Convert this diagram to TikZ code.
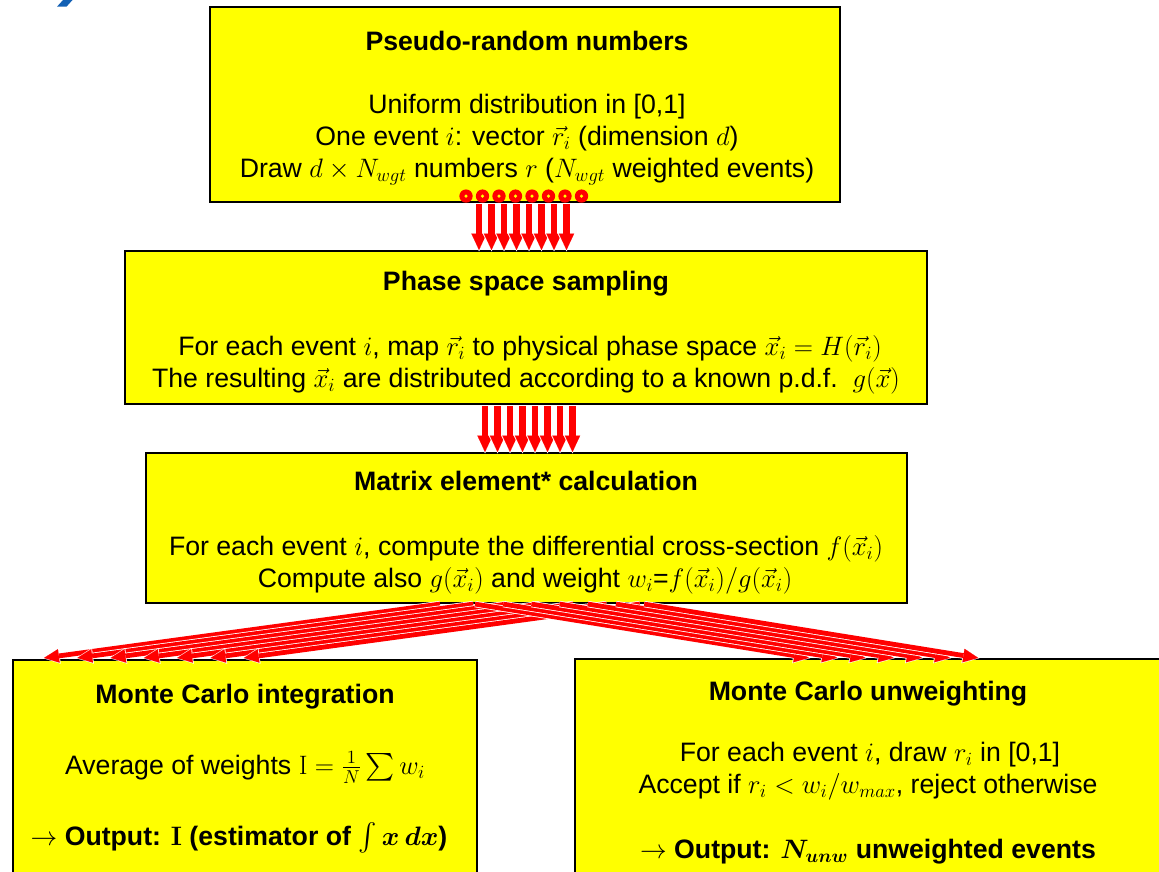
\RequirePackage{fix-cm}
\documentclass[tikz,border=0pt]{standalone}
\usepackage{exscale}
\usepackage[no-math]{fontspec}
\setmainfont{Liberation Sans}
\usetikzlibrary{arrows.meta,calc,fit}
\definecolor{boxyellow}{HTML}{FFFF00}
\definecolor{arrred}{HTML}{FF0000}
\definecolor{titleblue}{HTML}{1260B4}
\begin{document}
\begin{tikzpicture}[x=0.75pt,y=-0.75pt,
  box/.style={draw=black, line width=1.6pt, fill=boxyellow, inner sep=0pt},
  txt/.style={font=\fontsize{20}{24}\selectfont, anchor=base, inner sep=0pt},
  ttl/.style={font=\fontsize{20}{24}\selectfont\bfseries, anchor=base, inner sep=0pt},
  varrw/.style={white, line width=6.6pt, -{Triangle[line width=0.01pt,length=13.8pt,width=13.6pt]}, shorten >=-1pt},
  varr/.style={arrred, line width=5pt, -{Triangle[line width=0.01pt,length=12.2pt,width=11.4pt]}},
  farrw/.style={white, line width=4.8pt, -{Triangle[line width=0.01pt,length=12.6pt,width=11.8pt]}, shorten >=-0.8pt},
  farr/.style={arrred, line width=3.6pt, -{Triangle[line width=0.01pt,length=11.2pt,width=10.2pt]}},
  ring/.style={fill=arrred},
  dot/.style={fill=boxyellow}
]
\useasboundingbox (0,0) rectangle (1159,871);

% fragment of the slide title
\fill[titleblue] (63,0) -- (72.5,0) -- (66.5,6.7) -- (57,6.7) -- cycle;

% boxes
\coordinate (b1a) at (210,7);   \coordinate (b1b) at (840,202);
\coordinate (b2a) at (125,251); \coordinate (b2b) at (927,404);
\coordinate (b3a) at (146,453); \coordinate (b3b) at (907,603);
\coordinate (b4a) at (13,660);  \coordinate (b4b) at (477,900);
\coordinate (b5a) at (575,659); \coordinate (b5b) at (1161,900);
\node[box, fit=(b1a)(b1b)] (b1) {};
\node[box, fit=(b2a)(b2b)] (b2) {};
\node[box, fit=(b3a)(b3b)] (b3) {};
\node[box, fit=(b4a)(b4b)] (b4) {};
\node[box, fit=(b5a)(b5b)] (b5) {};

% texts box 1
\node[ttl] (t1) at (527,50) {Pseudo-random numbers};
\node[txt] (l11) at (527,113) {Uniform distribution in [0,1]};
\node[txt] (l12) at (527,145) {One event $i$: vector $\vec{r}_i$ (dimension $d$)};
\node[txt] (l13) at (527,177) {Draw $d\times N_{wgt}$ numbers $r$ ($N_{wgt}$ weighted events)};

% texts box 2
\node[ttl] (t2) at (526,290) {Phase space sampling};
\node[txt] (l21) at (530,355) {For each event $i$, map $\vec{r}_i$ to physical phase space $\vec{x}_i=H(\vec{r}_i)$};
\node[txt] (l22) at (526,387) {The resulting $\vec{x}_i$ are distributed according to a known p.d.f.\ \ $g(\vec{x})$};

% texts box 3
\node[ttl] (t3) at (526,490) {Matrix element* calculation};
\node[txt] (l31) at (526,555) {For each event $i$, compute the differential cross-section $f(\vec{x}_i)$};
\node[txt] (l32) at (525,587) {Compute also $g(\vec{x}_i)$ and weight $w_i$=$f(\vec{x}_i)/g(\vec{x}_i)$};

% texts box 4
\node[ttl] (t4) at (245,703) {Monte Carlo integration};
\node[txt] (l41) at (245,774) {Average of weights $\mathrm{I}=\frac{1}{N}\sum w_i$};
\node[txt] (l42) at (239,845) {$\rightarrow$ \textbf{\boldmath Output: $\mathrm{I}$ (estimator of $\int x\,dx$)}};

% texts box 5
\node[ttl] (t5) at (868,700) {Monte Carlo unweighting};
\node[txt] (l51) at (870,761) {For each event $i$, draw $r_i$ in [0,1]};
\node[txt] (l52) at (868,793) {Accept if $r_i<w_i/w_{max}$, reject otherwise};
\node[txt] (l53) at (868,858) {$\rightarrow$ \textbf{\boldmath Output: $N_{unw}$ unweighted events}};

% arrows box1 -> box2
\foreach \k in {0,...,7}{
  \coordinate (s1\k) at ($(b1.south)+({-46+12.5*\k},1)$);
  \coordinate (e1\k) at ($(b2.north)+({-47+12.5*\k},0)$);
  \draw[varrw] (s1\k) -- (e1\k);
  \draw[varr] (s1\k) -- (e1\k);
}
\foreach \k in {0,...,7}{
  \fill[ring] ($(b1.south)+({-59+16.5*\k},-7)$) circle[radius=5pt];
  \fill[dot] ($(b1.south)+({-59+16.5*\k},-7)$) circle[radius=1.3pt];
}

% arrows box2 -> box3
\foreach \k in {0,...,7}{
  \coordinate (s2\k) at ($(b2.south)+({-41+12.5*\k},1)$);
  \coordinate (e2\k) at ($(b3.north)+({-41.5+12.5*\k},0)$);
  \draw[varrw] (s2\k) -- (e2\k);
  \draw[varr] (s2\k) -- (e2\k);
}

% fan box3 -> box4
\foreach \k in {0,...,6}{
  \coordinate (s3\k) at ($(b3.south)+({-86.5+33.3*\k},0)$);
  \coordinate (e3\k) at ($(b4.north)+({-201+33.3*\k},-1)$);
  \draw[farrw] (s3\k) -- (e3\k);
  \draw[farr] (s3\k) -- (e3\k);
}
% fan box3 -> box5
\foreach \k in {0,...,6}{
  \coordinate (s4\k) at ($(b3.south)+({-51.5+28.2*\k},0)$);
  \coordinate (e4\k) at ($(b5.north)+({-59+28.2*\k},0)$);
  \draw[farrw] (s4\k) -- (e4\k);
  \draw[farr] (s4\k) -- (e4\k);
}
\end{tikzpicture}
\end{document}
